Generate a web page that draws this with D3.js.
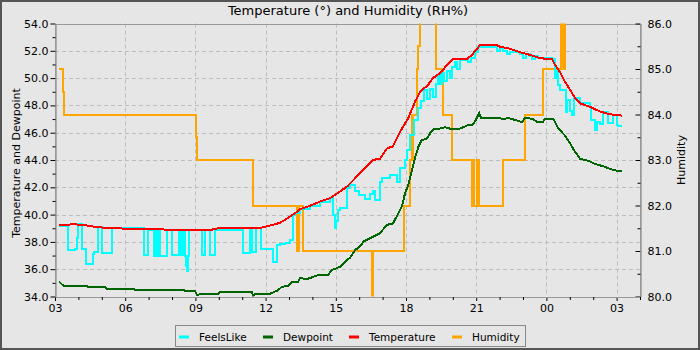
<!DOCTYPE html>
<html><head><meta charset="utf-8">
<script src="https://cdn.jsdelivr.net/npm/d3@7"></script>
<style>
html,body{margin:0;padding:0;background:#e6e6e6;}
svg{display:block;font-family:"DejaVu Sans",sans-serif;}
</style></head>
<body>
<svg id="chart" width="700" height="350"></svg>
<script>
// ---- Data (time = hours after 03:00 on day 1) ----
const title = "Temperature (°) and Humidity (RH%)";
const leftLabel = "Temperature and Dewpoint";
const rightLabel = "Humidity";
const seriesNames = ["FeelsLike", "Dewpoint", "Temperature", "Humidity"];
const xTickHours = [3, 6, 9, 12, 15, 18, 21, 0, 3];

const temperature = [
  [0.17,39.2],[0.81,39.3],[1.37,39.2],[1.71,39.1],[2.05,39.05],[2.56,39.0],[3.33,38.95],[4.91,38.9],
  [5.77,38.85],[6.07,38.85],[6.71,38.9],[6.97,39.0],[7.91,39.0],[8.85,39.05],[9.19,39.2],[9.62,39.4],
  [9.91,39.7],[10.26,40.1],[10.47,40.4],[10.90,40.65],[11.32,40.95],[11.75,41.2],[12.05,41.55],
  [12.48,42.05],[12.82,42.65],[13.25,43.4],[13.59,44.0],[13.89,44.1],[14.19,44.85],[14.44,45.0],
  [14.74,46.05],[15.09,47.05],[15.38,48.25],[15.60,49.0],[15.94,49.5],[16.15,50.0],[16.45,50.35],
  [16.75,50.95],[17.01,51.4],[17.61,51.4],[17.82,51.7],[18.16,52.4],[18.89,52.4],[19.02,52.3],
  [19.44,52.15],[19.87,51.9],[20.30,51.7],[20.73,51.45],[21.24,51.4],[21.37,50.95],[21.58,50.45],
  [21.79,49.75],[22.01,49.15],[22.22,48.55],[22.44,48.15],[22.86,47.9],[23.29,47.55],[23.72,47.35],
  [24.23,47.25]
];

const feelsLike = [
  [0.17,39.2],[0.57,37.4],[0.85,37.5],[0.93,38.3],[1.0,39.3],[1.14,37.45],[1.32,36.4],[1.64,37.1],
  [1.68,37.25],[1.82,39.1],[2.0,37.2],[2.45,39.0],[3.80,37.05],[3.99,38.9],[4.24,37.0],[4.29,38.9],
  [4.33,37.0],[4.37,38.9],[4.40,37.0],[4.45,38.9],[4.49,37.0],[4.77,38.9],[5.01,37.05],[5.29,38.9],
  [5.38,37.05],[5.47,38.9],[5.56,37.0],[5.60,36.2],[5.65,35.9],[5.70,37.0],[5.74,38.85],[6.27,37.05],
  [6.41,38.85],[6.62,37.05],[6.84,38.9],[8.02,37.2],[8.33,39.0],[8.41,37.25],[8.59,39.0],[8.80,37.45],
  [9.30,36.5],[9.47,37.75],[9.62,37.85],[9.83,37.95],[10.04,38.15],[10.18,39.95],[10.26,40.1],
  [10.47,40.4],[10.90,40.65],[11.32,40.95],[11.75,41.2],[11.87,40.0],[11.97,39.0],[12.01,39.5],
  [12.11,40.35],[12.18,40.45],[12.47,41.95],[12.61,42.2],[12.82,41.7],[12.99,41.4],[13.25,41.15],
  [13.46,41.5],[13.59,41.7],[13.68,41.05],[13.89,42.4],[13.97,42.65],[14.32,42.9],[14.62,42.4],
  [14.74,43.4],[14.96,44.0],[15.03,44.7],[15.17,45.8],[15.35,46.9],[15.51,47.8],[15.64,48.3],
  [15.77,49.1],[15.90,48.5],[16.03,49.2],[16.15,48.6],[16.28,49.6],[16.38,50.2],[16.45,49.6],
  [16.54,50.4],[16.62,49.8],[16.75,50.5],[16.88,50.0],[16.97,50.8],[17.09,51.2],[17.18,50.7],
  [17.31,51.3],[17.65,51.2],[17.78,51.5],[17.95,51.9],[18.08,52.3],[18.59,52.25],[18.89,52.0],
  [19.02,52.2],[19.15,51.95],[19.32,51.8],[19.44,51.9],[19.87,51.8],[20.0,51.45],[20.13,51.75],
  [20.30,51.6],[20.38,51.4],[20.51,51.6],[20.64,51.45],[21.24,51.4],[21.37,50.0],[21.45,50.5],
  [21.51,49.5],[21.58,49.1],[21.79,49.1],[21.84,47.5],[21.88,48.4],[22.01,47.6],[22.09,47.3],
  [22.18,48.55],[22.44,48.15],[22.86,47.9],[22.89,46.9],[23.08,46.2],[23.16,46.8],[23.29,46.65],
  [23.43,47.5],[23.65,46.7],[23.85,47.3],[24.0,46.6],[24.06,46.5],[24.23,46.5]
];

const dewpoint = [
  [0.17,35.1],[0.35,34.8],[1.35,34.8],[1.41,34.72],[2.14,34.72],[2.22,34.57],[3.33,34.57],[3.42,34.5],
  [5.47,34.5],[5.56,34.4],[5.98,34.4],[6.07,34.1],[6.2,34.18],[6.97,34.2],[7.05,34.35],[7.48,34.3],
  [8.42,34.3],[8.46,34.06],[8.55,34.18],[9.19,34.2],[9.54,34.47],[9.70,34.72],[9.96,34.75],
  [10.13,35.04],[10.38,35.05],[10.47,35.33],[10.81,35.3],[11.24,35.57],[11.67,35.6],[11.84,35.94],
  [12.18,36.18],[12.39,36.55],[12.61,36.85],[12.82,37.4],[13.03,37.65],[13.18,38.02],[13.46,38.26],
  [13.89,38.63],[14.17,39.24],[14.45,39.36],[14.67,40.09],[14.82,40.58],[14.96,41.56],[15.10,42.17],
  [15.24,43.14],[15.38,44.12],[15.53,44.97],[15.67,45.47],[15.88,45.54],[16.03,45.96],[16.17,46.25],
  [16.45,46.3],[16.67,46.4],[16.88,46.3],[17.31,46.3],[17.65,46.56],[17.86,46.6],[18.02,47.05],
  [18.13,47.45],[18.21,47.05],[19.02,47.05],[19.23,47.0],[19.32,47.1],[19.74,46.9],[19.96,46.76],
  [20.09,47.1],[20.43,47.0],[20.60,46.8],[20.85,46.8],[20.94,47.0],[21.28,47.0],[21.37,46.8],
  [21.50,46.32],[21.79,45.8],[22.01,45.22],[22.22,44.61],[22.44,44.1],[22.65,44.0],[22.86,43.9],
  [23.08,43.7],[23.42,43.55],[23.72,43.34],[24.0,43.22],[24.23,43.2]
];

const humidity = [
  [0.17,85.0],[0.33,84.5],[0.37,84.0],[6.01,83.5],[6.07,83.0],[8.45,82.0],[10.34,81.0],[10.41,82.0],
  [10.59,81.0],[13.55,80.0],[13.59,81.0],[14.93,82.0],[15.17,83.0],[15.24,84.0],[15.28,83.0],
  [15.32,84.0],[15.46,85.0],[15.53,85.5],[15.60,86.5],[16.28,85.0],[16.59,84.0],[16.95,83.0],
  [17.82,82.0],[17.87,83.0],[17.92,82.0],[18.02,83.0],[18.10,82.0],[19.16,83.0],[20.09,84.0],
  [20.87,85.0],[21.62,87.0],[21.71,85.0],[21.79,87.0],[24.23,87.0]
];

// ---- Layout ----
const W = 700, H = 350;
const m = {left: 55, right: 60, top: 23.5, bottom: 53.5};
const pw = W - m.left - m.right, ph = H - m.top - m.bottom;
const bg = "#e6e6e6";
const colors = {FeelsLike: "#00ffff", Dewpoint: "#006400", Temperature: "#ff0000", Humidity: "#ffa500"};

const t0 = new Date(2024, 0, 1, 3, 0);
const toDate = h => new Date(t0.getTime() + h * 3600000);

const svg = d3.select("#chart");
svg.append("rect").attr("x",0).attr("y",0).attr("width",W).attr("height",H).attr("fill",bg);

const x = d3.scaleTime().domain([t0, toDate(25)]).range([m.left, m.left + pw]);
const yL = d3.scaleLinear().domain([34, 54]).range([m.top + ph, m.top]);
const yR = d3.scaleLinear().domain([80, 86]).range([m.top + ph, m.top]);

// gridlines
const grid = svg.append("g").attr("stroke", "#bcbcbc").attr("stroke-dasharray", "4,3").attr("stroke-width", 1);
x.ticks(d3.timeHour.every(3)).forEach(d => {
  const px = Math.round(x(d)) + 0.5;
  if (px > m.left + 1 && px < m.left + pw - 1)
    grid.append("line").attr("x1", px).attr("x2", px).attr("y1", m.top).attr("y2", m.top + ph);
});
d3.range(36, 54, 2).forEach(v => {
  const py = Math.round(yL(v)) + 0.5;
  grid.append("line").attr("x1", m.left).attr("x2", m.left + pw).attr("y1", py).attr("y2", py);
});

// plot border
svg.append("rect").attr("x", m.left + 0.5).attr("y", Math.round(m.top) + 0.5)
  .attr("width", pw).attr("height", ph).attr("fill", "none").attr("stroke", "#999");

// clip
svg.append("clipPath").attr("id", "clip").append("rect")
  .attr("x", m.left).attr("y", m.top).attr("width", pw).attr("height", ph);
const plot = svg.append("g").attr("clip-path", "url(#clip)").attr("shape-rendering", "crispEdges");

const lineL = (curve) => d3.line().x(d => x(toDate(d[0]))).y(d => yL(d[1])).curve(curve);
const lineR = d3.line().x(d => x(toDate(d[0]))).y(d => yR(d[1])).curve(d3.curveStepAfter);

plot.append("path").datum(humidity).attr("d", lineR).attr("fill", "none")
  .attr("stroke", colors.Humidity).attr("stroke-width", 2);
plot.append("path").datum(dewpoint).attr("d", lineL(d3.curveLinear)).attr("fill", "none")
  .attr("stroke", colors.Dewpoint).attr("stroke-width", 2);
plot.append("path").datum(feelsLike).attr("d", lineL(d3.curveStepAfter)).attr("fill", "none")
  .attr("stroke", colors.FeelsLike).attr("stroke-width", 2);
plot.append("path").datum(temperature).attr("d", lineL(d3.curveLinear)).attr("fill", "none")
  .attr("stroke", colors.Temperature).attr("stroke-width", 2);

// axes
const fmt = d3.format(".1f");
function styleAxis(g) {
  g.selectAll(".domain").attr("stroke", "#999");
  g.selectAll(".tick line").attr("stroke", "#000");
  g.selectAll("text").attr("fill", "#000").attr("font-size", 11).attr("font-family", "DejaVu Sans");
}
const gL = svg.append("g").attr("transform", `translate(${m.left + 0.5},0)`)
  .call(d3.axisLeft(yL).tickValues(d3.range(34, 54.1, 2)).tickFormat(fmt).tickSize(5).tickPadding(2).tickSizeOuter(0));
styleAxis(gL);
const gLm = svg.append("g").attr("transform", `translate(${m.left + 0.5},0)`)
  .call(d3.axisLeft(yL).tickValues(d3.range(35, 54, 2)).tickFormat("").tickSize(3).tickSizeOuter(0));
styleAxis(gLm);

const gR = svg.append("g").attr("transform", `translate(${m.left + pw + 0.5},0)`)
  .call(d3.axisRight(yR).tickValues(d3.range(80, 86.1, 1)).tickFormat(fmt).tickSize(-5).tickPadding(7).tickSizeOuter(0));
styleAxis(gR);
const gRm = svg.append("g").attr("transform", `translate(${m.left + pw + 0.5},0)`)
  .call(d3.axisRight(yR).tickValues(d3.range(80.5, 86, 1)).tickFormat("").tickSize(-3).tickSizeOuter(0));
styleAxis(gRm);

const gX = svg.append("g").attr("transform", `translate(0,${m.top + ph + 0.5})`)
  .call(d3.axisBottom(x).tickValues(xTickHours.map((h, i) => toDate(i * 3))).tickFormat(d3.timeFormat("%H"))
    .tickSize(4).tickPadding(3).tickSizeOuter(0));
styleAxis(gX);
const gXm = svg.append("g").attr("transform", `translate(0,${m.top + ph + 0.5})`)
  .call(d3.axisBottom(x).tickValues(d3.range(0, 26).filter(h => h % 3 !== 0).map(toDate)).tickFormat("")
    .tickSize(3).tickSizeOuter(0));
styleAxis(gXm);

// titles
svg.append("text").attr("x", 348).attr("y", 15).attr("text-anchor", "middle")
  .attr("font-size", 13).text(title);
svg.append("text").attr("transform", `translate(20,${m.top + ph / 2 + 3}) rotate(-90)`)
  .attr("text-anchor", "middle").attr("font-size", 11).text(leftLabel);
svg.append("text").attr("transform", `translate(685,${m.top + ph / 2}) rotate(-90)`)
  .attr("text-anchor", "middle").attr("font-size", 11).text(rightLabel);

// legend
const lg = svg.append("g");
lg.append("rect").attr("x", 175.5).attr("y", 325.5).attr("width", 350).attr("height", 21)
  .attr("fill", bg).attr("stroke", "#888");
const legX = [179, 263, 349, 452];
seriesNames.forEach((n, i) => {
  lg.append("line").attr("x1", legX[i]).attr("x2", legX[i] + 10).attr("y1", 337).attr("y2", 337)
    .attr("stroke", colors[n]).attr("stroke-width", 3);
  lg.append("text").attr("x", legX[i] + 20).attr("y", 340.5).attr("font-size", 10.5).text(n);
});

// outer frame
svg.append("rect").attr("x", 1).attr("y", 1).attr("width", W - 2).attr("height", H - 2)
  .attr("fill", "none").attr("stroke", "#555").attr("stroke-width", 2);
</script>
</body></html>
